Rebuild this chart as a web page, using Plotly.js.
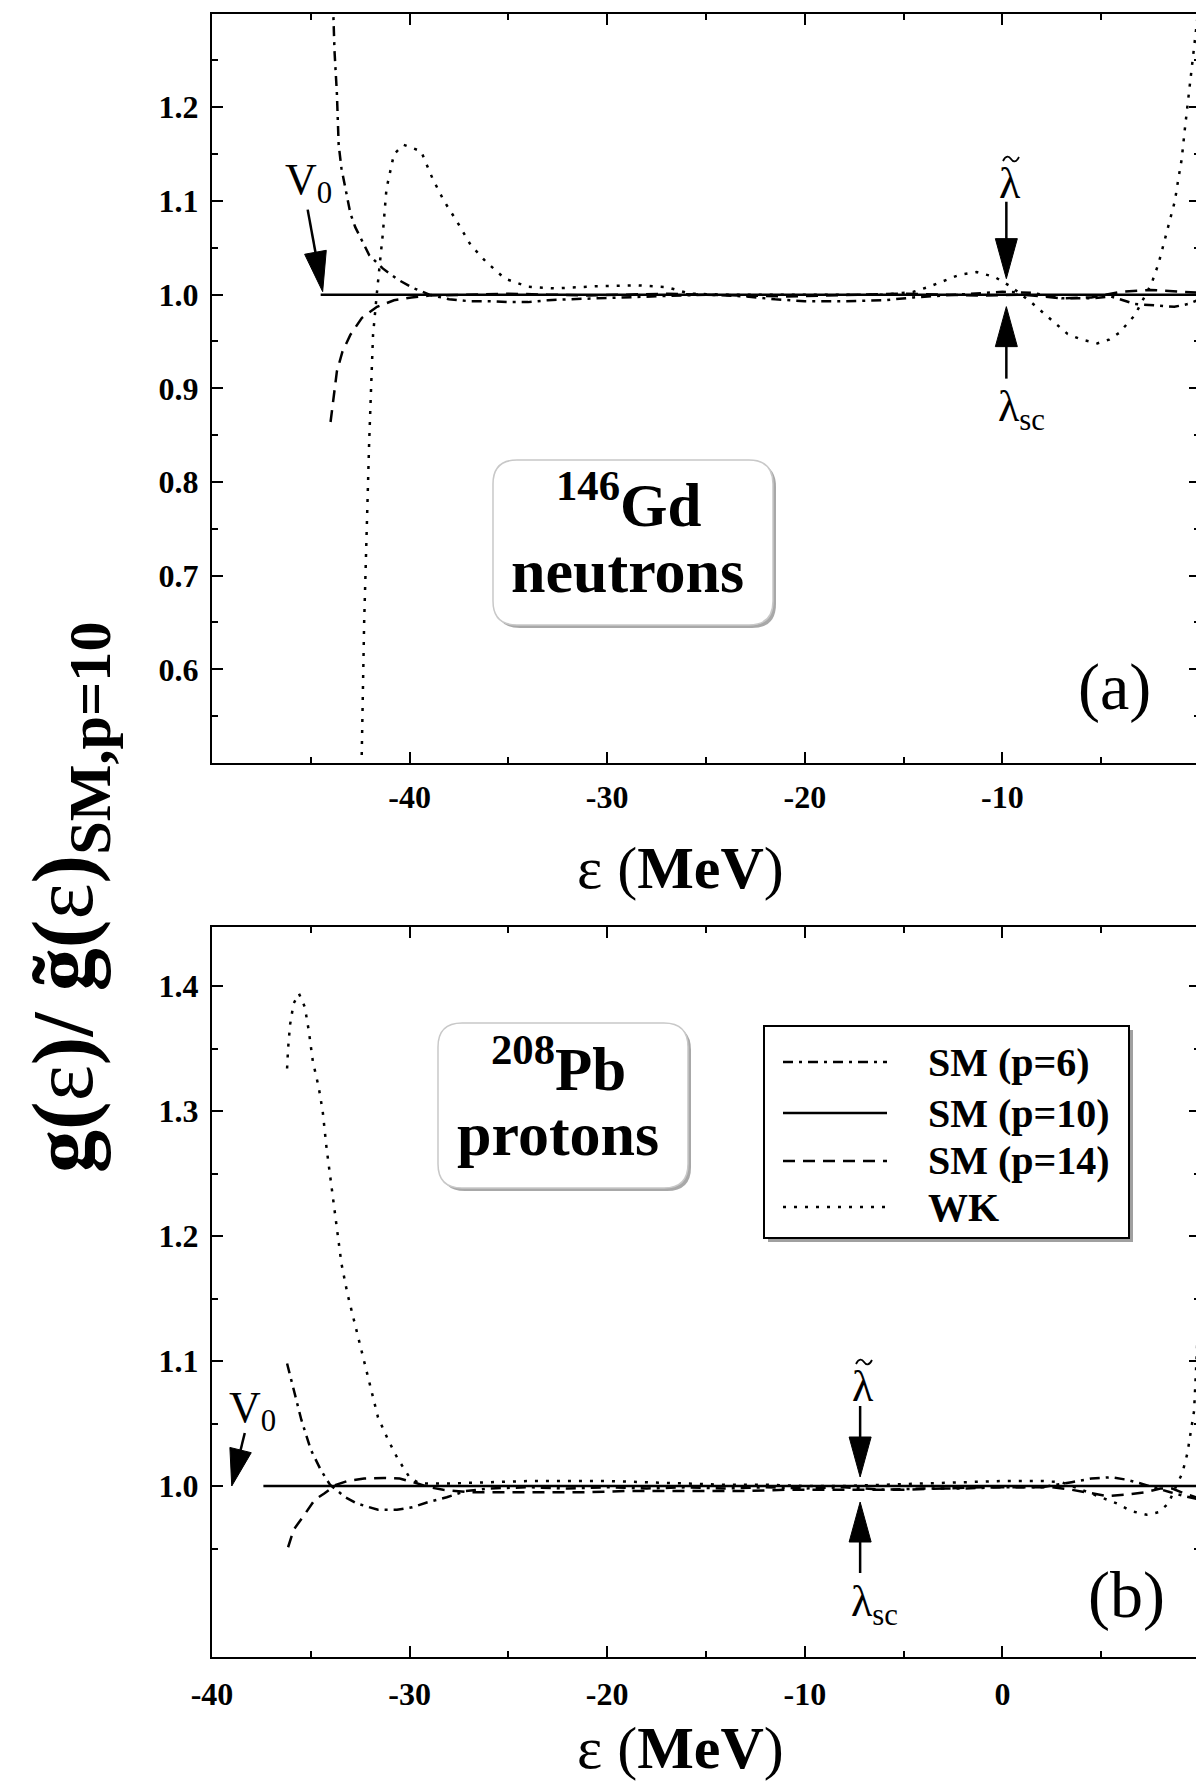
<!DOCTYPE html>
<html>
<head>
<meta charset="utf-8">
<script src="https://cdn.plot.ly/plotly-3.0.1.min.js"></script>
<style>
html,body{margin:0;padding:0;background:#fff;overflow:hidden;}
#wrap{width:1196px;height:1781px;overflow:hidden;position:relative;}
#plot{width:1216px;height:1781px;}
</style>
</head>
<body>
<div id="wrap"><div id="plot"></div></div>
<script>
// ---------------- DATA ----------------
const seriesNames = ['SM (p=6)', 'SM (p=10)', 'SM (p=14)', 'WK'];

// Panel (a): 146Gd neutrons
const xA_p6 = [-43.92,-43.8,-43.68,-43.59,-43.45,-43.3,-43.0,-42.75,-42.52,-42.04,-41.36,-40.59,-39.81,-39.0,-38.0,-37.0,-36.0,-35.0,-34.0,-33.0,-32.0,-30.5,-29.0,-27.0,-25.0,-23.0,-21.5,-20.0,-18.0,-16.0,-14.5,-13.0,-11.5,-10.0,-8.5,-7.0,-5.5,-4.5,-3.3,-2.0,-1.3,-0.6,0];
const yA_p6 = [1.34,1.26,1.215,1.16,1.135,1.12,1.087,1.072,1.062,1.042,1.028,1.016,1.007,1.0,0.995,0.993,0.993,0.992,0.992,0.994,0.995,0.996,0.997,0.999,1.0,0.998,0.995,0.993,0.993,0.994,0.997,0.999,1.001,1.003,1.002,0.996,0.996,0.998,0.99,0.988,0.987,0.99,0.995];
const xA_p10 = [-44.5, -30, -15, 0];
const yA_p10 = [1.0, 1.0, 1.0, 1.0];
const xA_p14 = [-44.0,-43.88,-43.68,-43.4,-43.0,-42.42,-41.65,-40.79,-39.91,-39.0,-37.0,-35.0,-33.0,-31.0,-29.0,-27.0,-25.0,-23.0,-21.0,-19.0,-17.0,-15.0,-13.0,-11.0,-9.0,-7.0,-5.5,-4.0,-2.5,-1.5,-0.5,0];
const yA_p14 = [0.864,0.886,0.918,0.939,0.957,0.975,0.987,0.994,0.997,0.999,1.0,1.001,1.0,0.999,1.0,1.001,1.0,0.999,0.998,0.999,1.0,1.001,1.0,0.999,1.0,0.996,0.997,1.003,1.005,1.004,1.003,1.002];
const xA_wk = [-42.55,-42.43,-42.3,-42.15,-42.05,-41.95,-41.85,-41.65,-41.36,-41.17,-40.79,-40.3,-39.42,-38.84,-38.26,-37.6,-36.91,-36.13,-35.17,-34.01,-32.64,-30.5,-28.5,-27.0,-25.8,-24.0,-20.0,-16.0,-14.5,-13.7,-12.2,-11.3,-10.4,-9.56,-8.5,-7.6,-6.7,-6.0,-5.2,-4.6,-4.1,-3.3,-2.45,-2.1,-1.8,-1.55,-1.27,-1.1,-0.93,-0.76,-0.59,-0.4,-0.2,0];
const yA_wk = [0.45,0.5,0.65,0.78,0.84,0.9,0.957,1.003,1.064,1.113,1.15,1.16,1.153,1.124,1.10,1.078,1.053,1.035,1.017,1.0085,1.0066,1.009,1.010,1.008,1.001,1.0,1.0,1.0,1.003,1.0085,1.021,1.024,1.019,1.0085,0.991,0.975,0.958,0.952,0.948,0.952,0.959,0.978,1.012,1.033,1.057,1.078,1.10,1.123,1.144,1.178,1.21,1.24,1.28,1.32];

// Panel (b): 208Pb protons
const xB_p6 = [-36.2,-35.87,-35.48,-35.0,-34.5,-34.03,-33.25,-32.67,-31.6,-30.64,-29.86,-29.09,-28.12,-27.15,-26,-24,-22,-20,-18,-16,-14,-12,-10,-8,-6,-4,-2,0,2,3.5,4.5,5.5,6.3,7,7.8,8.5,9.2,10];
const yB_p6 = [1.098,1.077,1.053,1.029,1.013,1.001,0.991,0.986,0.981,0.981,0.983,0.987,0.991,0.996,0.998,0.999,0.998,0.999,0.998,0.999,0.998,0.999,0.998,0.999,0.997,0.998,0.998,0.999,0.999,1.003,1.006,1.007,1.005,1.002,0.998,0.995,0.992,0.989];
const xB_p10 = [-37.4, -20, 0, 10];
const yB_p10 = [1.0, 1.0, 1.0, 1.0];
const xB_p14 = [-36.15,-35.87,-35.28,-34.8,-34.32,-33.73,-33.15,-32.3,-31.3,-30.5,-29.8,-29.0,-28.3,-27,-25,-23,-21,-19,-17,-15,-13,-11,-9,-7,-5,-3,-1,1,2.5,3.5,4.5,5.3,6.2,7.2,8,8.6,9.2,10];
const yB_p14 = [0.951,0.965,0.978,0.989,0.994,1.001,1.004,1.006,1.0065,1.006,1.003,0.999,0.997,0.995,0.995,0.995,0.995,0.996,0.996,0.996,0.996,0.997,0.997,0.997,0.997,0.998,0.999,0.999,0.999,0.997,0.994,0.992,0.993,0.995,0.998,0.998,0.994,0.99];
const xB_wk = [-36.2,-36.15,-36.05,-35.87,-35.6,-35.3,-35.1,-34.9,-34.6,-34.4,-34.2,-33.93,-33.73,-33.45,-33.15,-32.77,-32.45,-31.9,-31.6,-31.12,-30.64,-30.25,-29.96,-29.47,-28,-26,-24,-22,-20,-18,-16,-14,-12,-10,-8,-6,-4,-2,0,2,3,4,5,5.8,6.5,7.3,7.9,8.4,8.85,9.1,9.36,9.5,9.7,9.85,10];
const yB_wk = [1.334,1.35,1.369,1.386,1.394,1.383,1.364,1.34,1.319,1.30,1.27,1.237,1.213,1.178,1.154,1.13,1.108,1.074,1.055,1.038,1.023,1.013,1.006,1.002,1.002,1.003,1.004,1.004,1.004,1.003,1.002,1.001,1.001,1.0,1.0,1.001,1.002,1.003,1.004,1.004,1.003,0.997,0.991,0.986,0.980,0.977,0.979,0.986,1.002,1.01,1.026,1.04,1.06,1.11,1.18];

// Ticks
const xTickValsA = [-40,-30,-20,-10];
const xTickTextA = ['-40','-30','-20','-10'];
const xMinorA = [-45,-35,-25,-15,-5];
const yTickValsA = [0.6,0.7,0.8,0.9,1.0,1.1,1.2];
const yTickTextA = ['0.6','0.7','0.8','0.9','1.0','1.1','1.2'];
const yMinorA = [0.55,0.65,0.75,0.85,0.95,1.05,1.15,1.25];
const xTickValsB = [-40,-30,-20,-10,0];
const xTickTextB = ['-40','-30','-20','-10','0'];
const xMinorB = [-35,-25,-15,-5,5];
const yTickValsB = [1.0,1.1,1.2,1.3,1.4];
const yTickTextB = ['1.0','1.1','1.2','1.3','1.4'];
const yMinorB = [0.95,1.05,1.15,1.25,1.35];

// ---------------- STYLE / LAYOUT ----------------
const FAM = 'Liberation Serif, Times New Roman, serif';
const W = 1216, H = 1781, ML = 212, MR = 16, MT = 13, MB = 124;
const PW = W - ML - MR, PH = H - MT - MB;
const fx = px => (px - ML) / PW;
const fy = py => (H - MB - py) / PH;

const dashes = ['10px,6px,3px,6px', 'solid', '12px,8px', '3px,8px'];
const LW = 2.5;

function mk(x, y, i, xa, ya) {
  return {x: x, y: y, type: 'scatter', mode: 'lines', name: seriesNames[i],
    xaxis: xa, yaxis: ya, showlegend: false, hoverinfo: 'skip',
    line: {color: 'black', width: LW, dash: dashes[i]}};
}
const traces = [
  mk(xA_p6, yA_p6, 0, 'x', 'y'), mk(xA_p10, yA_p10, 1, 'x', 'y'),
  mk(xA_p14, yA_p14, 2, 'x', 'y'), mk(xA_wk, yA_wk, 3, 'x', 'y'),
  mk(xB_p6, yB_p6, 0, 'x2', 'y2'), mk(xB_p10, yB_p10, 1, 'x2', 'y2'),
  mk(xB_p14, yB_p14, 2, 'x2', 'y2'), mk(xB_wk, yB_wk, 3, 'x2', 'y2')
];

function axis(extra) {
  return Object.assign({
    showline: true, linecolor: 'black', linewidth: 2, mirror: 'ticks',
    ticks: 'inside', ticklen: 11, tickwidth: 2, tickcolor: 'black',
    showgrid: false, zeroline: false, tickmode: 'array',
    tickfont: {family: FAM, size: 32, color: 'black', weight: 'bold'}
  }, extra);
}
function minor(vals) {
  return {tickmode: 'array', tickvals: vals, ticks: 'inside', ticklen: 6, tickwidth: 2, tickcolor: 'black', showgrid: false};
}

const yA_top = fy(13.6), yA_bot = fy(763), yB_top = fy(927), yB_bot = fy(1657);

const layout = {
  width: W, height: H, margin: {l: ML, r: MR, t: MT, b: MB},
  paper_bgcolor: 'white', plot_bgcolor: 'white', showlegend: false,
  xaxis: axis({domain: [0, 1], range: [-50, 0], anchor: 'y', tickvals: xTickValsA, ticktext: xTickTextA, minor: minor(xMinorA), ticklabelstandoff: 5}),
  yaxis: axis({domain: [yA_bot, Math.min(1, yA_top)], range: [0.5, 1.3], anchor: 'x', tickvals: yTickValsA, ticktext: yTickTextA, minor: minor(yMinorA), ticklabelstandoff: 5}),
  xaxis2: axis({domain: [0, 1], range: [-40, 10], anchor: 'y2', tickvals: xTickValsB, ticktext: xTickTextB, minor: minor(xMinorB), ticklabelstandoff: 8}),
  yaxis2: axis({domain: [yB_bot, yB_top], range: [0.8632, 1.4472], anchor: 'x2', tickvals: yTickValsB, ticktext: yTickTextB, minor: minor(yMinorB), ticklabelstandoff: 5}),
  shapes: [], annotations: []
};

// rounded box path in paper coords from pixel coords
function rr(x0, y0, x1, y1, r) {
  const P = (x, y) => fx(x).toFixed(5) + ',' + fy(y).toFixed(5);
  return 'M' + P(x0 + r, y0) + ' L' + P(x1 - r, y0) + ' Q' + P(x1, y0) + ' ' + P(x1, y0 + r) +
    ' L' + P(x1, y1 - r) + ' Q' + P(x1, y1) + ' ' + P(x1 - r, y1) +
    ' L' + P(x0 + r, y1) + ' Q' + P(x0, y1) + ' ' + P(x0, y1 - r) +
    ' L' + P(x0, y0 + r) + ' Q' + P(x0, y0) + ' ' + P(x0 + r, y0) + ' Z';
}
function box(x0, y0, x1, y1, r) {
  layout.shapes.push({type: 'path', xref: 'paper', yref: 'paper', path: rr(x0 + 3, y0 + 3, x1 + 3, y1 + 3, r), fillcolor: '#a8a8a8', line: {width: 0}});
  layout.shapes.push({type: 'path', xref: 'paper', yref: 'paper', path: rr(x0, y0, x1, y1, r), fillcolor: 'white', line: {color: '#c8c8c8', width: 1.5}});
}
box(493, 460, 773, 625, 24);
box(438, 1023, 688, 1188, 24);

// arrows (pixel offsets relative to data anchor; screen y down)
function arrow(xr, yr, ax, ay, tail, tip, hl, hw) {
  const vx = tip[0] - tail[0], vy = tip[1] - tail[1], L = Math.hypot(vx, vy);
  const ux = vx / L, uy = vy / L;
  const bx = tip[0] - ux * hl, by = tip[1] - uy * hl;
  const nx = -uy, ny = ux;
  const c1 = [bx + nx * hw, by + ny * hw], c2 = [bx - nx * hw, by - ny * hw];
  const S = p => p[0].toFixed(2) + ',' + (-p[1]).toFixed(2);
  layout.shapes.push({type: 'line', xref: xr, yref: yr, xsizemode: 'pixel', ysizemode: 'pixel', xanchor: ax, yanchor: ay,
    x0: tail[0], y0: -tail[1], x1: bx + ux * 3, y1: -(by + uy * 3), line: {color: 'black', width: 2.5}});
  layout.shapes.push({type: 'path', xref: xr, yref: yr, xsizemode: 'pixel', ysizemode: 'pixel', xanchor: ax, yanchor: ay,
    path: 'M' + S(tip) + ' L' + S(c1) + ' L' + S(c2) + ' Z', fillcolor: 'black', line: {color: 'black', width: 1}});
}
arrow('x', 'y', -9.8, 1.0, [0, -93], [0, -16], 40, 11);
arrow('x', 'y', -9.8, 1.0, [0, 84], [0, 12], 40, 11);
arrow('x', 'y', -44.4, 1.0, [-15, -85], [0, -3], 40, 11);
arrow('x2', 'y2', -7.2, 1.0, [0, -80], [0, -9], 40, 11);
arrow('x2', 'y2', -7.2, 1.0, [0, 87], [0, 16], 40, 11);
arrow('x2', 'y2', -39.0, 1.0, [13, -53], [0, 0], 37, 11);

// tilde accent drawn as a small curve (over lambda)
function tilde(px, py) {
  layout.shapes.push({type: 'path', xref: 'paper', yref: 'paper', xsizemode: 'pixel', ysizemode: 'pixel',
    xanchor: fx(px), yanchor: fy(py), path: 'M-8,-2 C-5,4 -2,3 0,0 C2,-3 5,-4 8,2',
    fillcolor: 'rgba(0,0,0,0)', line: {color: 'black', width: 1.8}});
}
tilde(1011, 159);
tilde(864, 1362);

// legend (drawn box + samples + labels)
const LG = {x0: 764, y0: 1026, x1: 1129, y1: 1238, sx0: 783, sx1: 887, tx: 926, rows: [1062, 1113, 1161, 1207]};
layout.shapes.push({type: 'rect', xref: 'paper', yref: 'paper', x0: fx(LG.x0 + 4), x1: fx(LG.x1 + 4), y0: fy(LG.y0 + 4), y1: fy(LG.y1 + 4), fillcolor: '#a0a0a0', line: {width: 0}});
layout.shapes.push({type: 'rect', xref: 'paper', yref: 'paper', x0: fx(LG.x0), x1: fx(LG.x1), y0: fy(LG.y0), y1: fy(LG.y1), fillcolor: 'white', line: {color: 'black', width: 2}});
seriesNames.forEach((n, i) => {
  layout.shapes.push({type: 'line', xref: 'paper', yref: 'paper', x0: fx(LG.sx0), x1: fx(LG.sx1), y0: fy(LG.rows[i]), y1: fy(LG.rows[i]), line: {color: 'black', width: LW, dash: dashes[i]}});
  layout.annotations.push({xref: 'paper', yref: 'paper', x: fx(LG.tx), y: fy(LG.rows[i]), xanchor: 'left', yanchor: 'middle', showarrow: false,
    text: n, font: {family: FAM, size: 40, color: 'black', weight: 'bold'}});
});

function ann(px, py, text, size, opts) {
  layout.annotations.push(Object.assign({xref: 'paper', yref: 'paper', x: fx(px), y: fy(py), xanchor: 'center', yanchor: 'middle', showarrow: false,
    text: text, font: {family: FAM, size: size, color: 'black'}}, opts || {}));
}
// box texts
ann(628, 500, '<b><sup>146</sup>Gd</b>', 61);
ann(627, 571, '<b>neutrons</b>', 62);
ann(558, 1064, '<b><sup>208</sup>Pb</b>', 61);
ann(558, 1134, '<b>protons</b>', 62);
// panel labels
ann(1114, 687, '(a)', 66);
ann(1126, 1595, '(b)', 66);
// markers text
ann(283, 182, 'V<sub>0</sub>', 44, {xanchor: 'left'});
ann(227, 1410, 'V<sub>0</sub>', 44, {xanchor: 'left'});
ann(1010, 183, 'λ', 44);
ann(996, 410, 'λ<sub>sc</sub>', 44, {xanchor: 'left'});
ann(863, 1386, 'λ', 44);
ann(849, 1604, 'λ<sub>sc</sub>', 44, {xanchor: 'left'});
// axis titles
ann(680, 868, 'ε (<b>MeV</b>)', 60);
ann(680, 1748, 'ε (<b>MeV</b>)', 60);
ann(69, 897, '<b>g(</b>ε<b>)/ g\u0303(</b>ε<b>)<sub>SM,p=10</sub></b>', 86, {textangle: -90});

Plotly.newPlot('plot', traces, layout, {staticPlot: true, displayModeBar: false});
</script>
</body>
</html>
